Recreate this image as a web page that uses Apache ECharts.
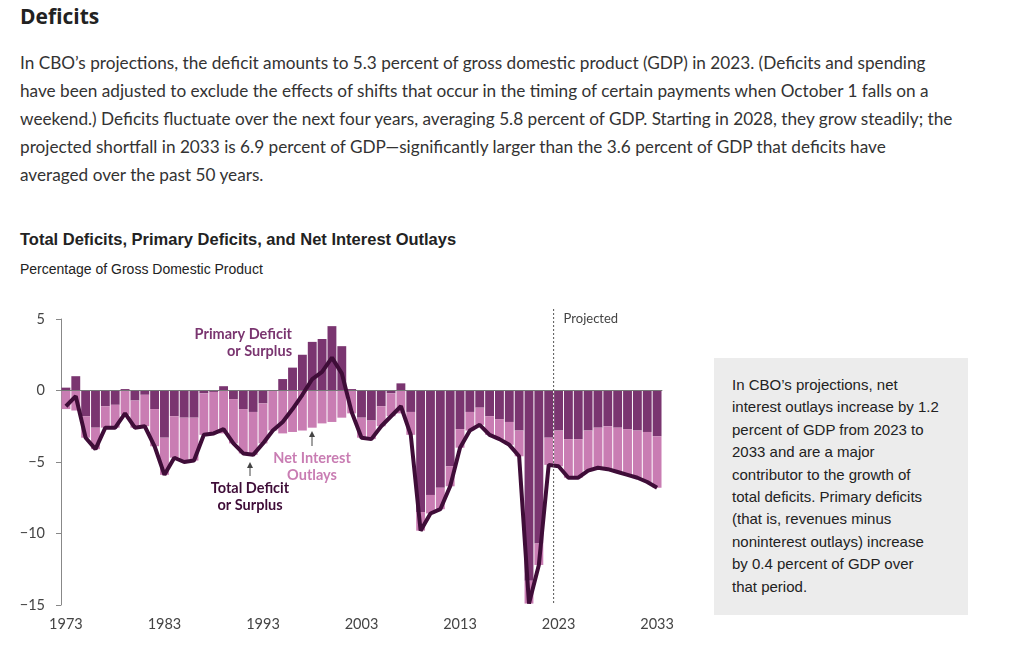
<!DOCTYPE html>
<html><head><meta charset="utf-8">
<script src="https://cdn.jsdelivr.net/npm/echarts@6/dist/echarts.min.js"></script>
<style>
body{margin:0;width:1024px;height:651px;background:#fff;font-family:Lato,"Open Sans",sans-serif;color:#222;position:relative;overflow:hidden}
h1{position:absolute;left:20px;top:2px;margin:0;font-size:21px;font-weight:bold;font-family:"Open Sans",sans-serif}
p.t{position:absolute;left:20px;top:49px;margin:0;width:990px;white-space:nowrap;font-size:17.2px;line-height:28px;color:#333}
.ct{position:absolute;left:20px;top:230px;font-size:16.5px;font-weight:bold;font-family:"Liberation Sans",Arial,sans-serif}
.cs{position:absolute;left:20px;top:261px;font-size:14px;font-family:"Liberation Sans",Arial,sans-serif}
.box{position:absolute;left:714px;top:358px;width:220px;height:225px;background:#ececec;padding:16px 16px 16px 18px;white-space:nowrap;font-size:15px;line-height:22.4px;font-family:"Liberation Sans",Arial,sans-serif;color:#222}
#c{position:absolute;left:0;top:300px;width:700px;height:351px}
</style></head><body>
<h1>Deficits</h1>
<p class="t">In CBO’s projections, the deficit amounts to 5.3 percent of gross domestic product (GDP) in 2023. (Deficits and spending<br>have been adjusted to exclude the effects of shifts that occur in the timing of certain payments when October 1 falls on a<br>weekend.) Deficits fluctuate over the next four years, averaging 5.8 percent of GDP. Starting in 2028, they grow steadily; the<br>projected shortfall in 2033 is 6.9 percent of GDP—significantly larger than the 3.6 percent of GDP that deficits have<br>averaged over the past 50 years.</p>
<div class="ct">Total Deficits, Primary Deficits, and Net Interest Outlays</div>
<div class="cs">Percentage of Gross Domestic Product</div>
<div class="box">In CBO’s projections, net<br>interest outlays increase by 1.2<br>percent of GDP from 2023 to<br>2033 and are a major<br>contributor to the growth of<br>total deficits. Primary deficits<br>(that is, revenues minus<br>noninterest outlays) increase<br>by 0.4 percent of GDP over<br>that period.</div>
<div id="c"></div>
<script>
const years=[];for(let y=1973;y<=2033;y++)years.push(String(y));
const total=[-1.1,-0.4,-3.3,-4.1,-2.6,-2.6,-1.6,-2.6,-2.5,-3.9,-5.9,-4.7,-5.0,-4.9,-3.1,-3.0,-2.7,-3.7,-4.4,-4.5,-3.7,-2.8,-2.2,-1.3,-0.3,0.8,1.3,2.3,1.2,-1.5,-3.3,-3.4,-2.5,-1.8,-1.1,-3.1,-9.8,-8.6,-8.3,-6.7,-4.0,-2.8,-2.4,-3.1,-3.4,-3.8,-4.6,-14.9,-12.2,-5.2,-5.3,-6.1,-6.1,-5.6,-5.4,-5.5,-5.7,-5.9,-6.1,-6.4,-6.8];
const netInterest=[1.3,1.4,1.5,1.5,1.5,1.6,1.7,1.9,2.2,2.6,2.6,2.9,3.1,3.0,2.9,2.9,3.0,3.1,3.1,3.0,2.8,2.8,3.0,2.9,2.8,2.6,2.3,2.2,1.9,1.6,1.4,1.3,1.4,1.6,1.6,1.6,1.3,1.3,1.5,1.4,1.3,1.3,1.2,1.3,1.4,1.6,1.8,1.6,1.5,1.9,2.5,2.7,2.7,2.8,2.8,3.0,3.1,3.2,3.3,3.5,3.6];
const primary=total.map((t,i)=>+(t+netInterest[i]).toFixed(2));
const yTicks=[-15,-10,-5,0,5];
const ch=echarts.init(document.getElementById('c'));
ch.setOption({
 animation:false,
 grid:{left:61,right:38,top:19,bottom:46},
 xAxis:{type:'category',data:years,axisLine:{lineStyle:{color:'#888'}},
  axisTick:{alignWithLabel:true,interval:(i)=>i%10===0,lineStyle:{color:'#888'},length:5},
  axisLabel:{interval:(i)=>i%10===0,color:'#444',fontSize:14.5,margin:12,fontFamily:'Lato, sans-serif'}},
 yAxis:{type:'value',min:yTicks[0],max:yTicks[4],interval:5,splitLine:{show:false},
  axisLine:{show:true,lineStyle:{color:'#888'}},axisTick:{show:true,length:5,lineStyle:{color:'#888'}},
  axisLabel:{color:'#444',fontSize:14.5,margin:16,fontFamily:'Lato, sans-serif',formatter:v=>v<0?'\u2212'+(-v):v}},
 series:[
  {type:'bar',name:'Primary',stack:'a',data:primary,barCategoryGap:'10%',itemStyle:{color:'#7a3570'},
   markLine:{silent:true,symbol:'none',label:{show:false},lineStyle:{color:'#777',type:'solid',width:1.2},data:[{yAxis:0}]}},
  {type:'bar',name:'Interest',stack:'a',data:netInterest.map(v=>-v),itemStyle:{color:'#c97db3'}},
  {type:'line',name:'Total',data:total,symbol:'none',lineStyle:{color:'#3f0d38',width:4},z:5}
 ]
});
const px=(x,y)=>ch.convertToPixel({xAxisIndex:0,yAxisIndex:0},[x,y]);
const pa=px('2022',0),pb=px('2023',0);const xm=(pa[0]+pb[0])/2;
const yTop=px('2022',5)[1]-10,yBot=px('2022',-15)[1];
ch.setOption({graphic:[
 {type:'line',shape:{x1:xm,y1:yTop,x2:xm,y2:yBot},style:{stroke:'#555',lineDash:[2,2],lineWidth:1},z:10},
 {type:'text',x:xm+10,y:yTop+3,style:{text:'Projected',fill:'#444',font:'13px Lato, sans-serif'}},
 {type:'text',x:292,y:26,style:{text:'Primary Deficit\nor Surplus',fill:'#7a3570',align:'right',font:'bold 14.5px Lato, sans-serif',lineHeight:17}},
 {type:'text',x:312,y:150,style:{text:'Net Interest\nOutlays',fill:'#c97db3',align:'center',font:'bold 14.5px Lato, sans-serif',lineHeight:17}},
 {type:'text',x:250,y:180,style:{text:'Total Deficit\nor Surplus',fill:'#3f0d38',align:'center',font:'bold 14.5px Lato, sans-serif',lineHeight:17}},
 {type:'line',shape:{x1:250,y1:164,x2:250,y2:176},style:{stroke:'#444',lineWidth:1}},
 {type:'polygon',shape:{points:[[247,168],[253,168],[250,162]]},style:{fill:'#444'}},
 {type:'line',shape:{x1:312,y1:134,x2:312,y2:146},style:{stroke:'#444',lineWidth:1}},
 {type:'polygon',shape:{points:[[309,137],[315,137],[312,131]]},style:{fill:'#444'}}
]});
</script></body></html>
